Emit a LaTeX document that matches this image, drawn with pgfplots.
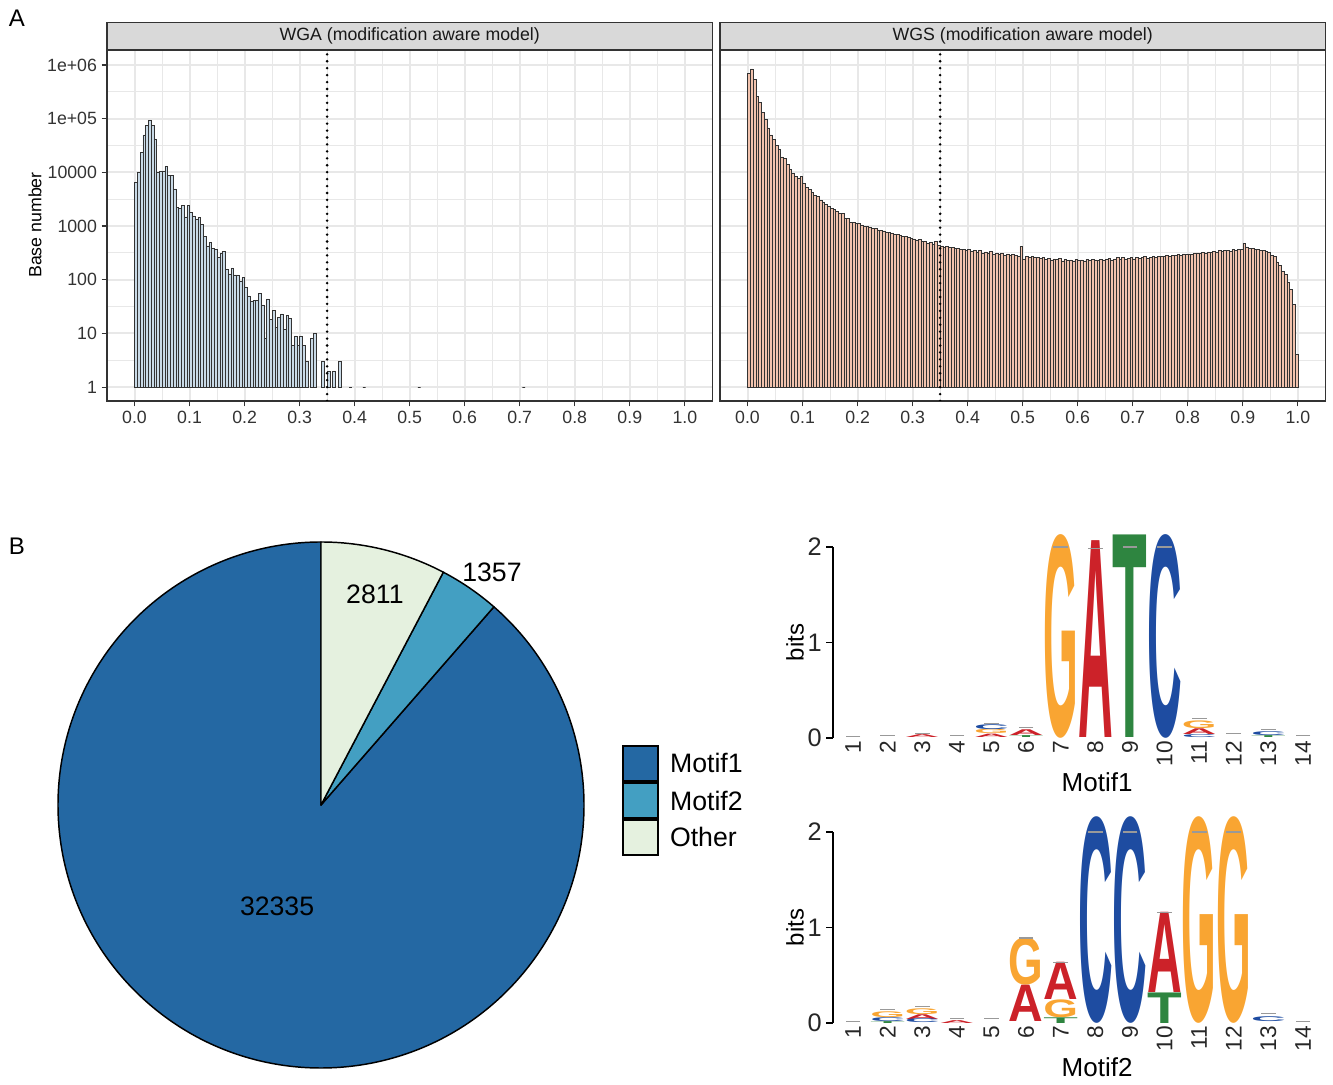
\documentclass[border=0pt]{standalone}
\usepackage{pgfplots}
\pgfplotsset{compat=1.18}
\usepackage{pgfplotstable}
\usepackage{graphicx}
\usepackage{xfp}
\usepackage{fontspec}
\setmainfont{Liberation Sans}
\setsansfont{Liberation Sans}

\definecolor{gridc}{HTML}{E8E8E8}
\definecolor{grey20}{HTML}{333333}
\definecolor{stripc}{HTML}{D9D9D9}
\definecolor{wgafill}{HTML}{C9DAE7}
\definecolor{wgsfill}{HTML}{F2C3AE}
\definecolor{barline}{HTML}{333333}
\definecolor{motifone}{HTML}{2468A3}
\definecolor{motiftwo}{HTML}{439FC2}
\definecolor{otherc}{HTML}{E5F1DF}
\definecolor{colG}{HTML}{F9A532}
\definecolor{colA}{HTML}{CC2229}
\definecolor{colT}{HTML}{2E8540}
\definecolor{colC}{HTML}{1E4CA1}

\newlength\bitlen
\setlength\bitlen{71.625pt}

% pie values
\def\vOther{2811}
\def\vMotifTwo{1357}
\def\vMotifOne{32335}
\edef\angA{\fpeval{90-360*\vOther/(\vOther+\vMotifTwo+\vMotifOne)}}
\edef\angB{\fpeval{\angA-360*\vMotifTwo/(\vOther+\vMotifTwo+\vMotifOne)}}

\pgfplotstableread{
x y
0.0025 6500
0.0075 10200
0.0125 23700
0.0175 50100
0.0225 75000
0.0275 94400
0.0325 75000
0.0375 42200
0.0425 10200
0.0475 10700
0.0525 10700
0.0575 12900
0.0625 8700
0.0675 8700
0.0725 4900
0.0775 2190
0.0825 2140
0.0875 2450
0.0925 1480
0.0975 2400
0.1025 1780
0.1075 1550
0.1125 1320
0.1175 1450
0.1225 1070
0.1275 646
0.1325 427
0.1375 490
0.1425 389
0.1475 363
0.1525 257
0.1575 316
0.1625 339
0.1675 158
0.1725 129
0.1775 166
0.1825 123
0.1875 123
0.1925 93
0.1975 110
0.2025 72
0.2075 50
0.2125 39
0.2175 41
0.2225 41
0.2275 56
0.2325 34
0.2375 8
0.2425 44
0.2475 18
0.2525 27
0.2575 13
0.2625 20
0.2675 23
0.2725 12
0.2775 22
0.2825 19
0.2875 6
0.2925 9
0.2975 6
0.3025 9
0.3075 6
0.3125 3
0.3225 8
0.3275 10
0.3425 3
0.3525 2
0.3625 2
0.3725 3
0.3925 1
0.4175 1
0.5175 1
0.7075 1
}\wgatab

\pgfplotstableread{
x y
0.0025 692000
0.0075 851000
0.0125 537000
0.0175 257000
0.0225 200000
0.0275 132000
0.0325 97700
0.0375 67600
0.0425 50100
0.0475 40700
0.0525 31600
0.0575 26900
0.0625 19500
0.0675 18200
0.0725 14100
0.0775 11500
0.0825 9550
0.0875 8510
0.0925 7760
0.0975 8320
0.1025 6310
0.1075 5250
0.1125 4790
0.1175 4170
0.1225 3720
0.1275 3550
0.1325 3020
0.1375 2820
0.1425 2510
0.1475 2340
0.1525 2140
0.1575 2040
0.1625 1860
0.1675 1740
0.1725 1700
0.1775 1410
0.1825 1380
0.1875 1170
0.1925 1170
0.1975 1120
0.2025 1120
0.2075 1050
0.2125 1000
0.2175 977
0.2225 955
0.2275 912
0.2325 891
0.2375 851
0.2425 832
0.2475 813
0.2525 776
0.2575 759
0.2625 741
0.2675 708
0.2725 692
0.2775 676
0.2825 646
0.2875 631
0.2925 617
0.2975 589
0.3025 575
0.3075 550
0.3125 562
0.3175 525
0.3225 513
0.3275 479
0.3325 501
0.3375 457
0.3425 525
0.3475 437
0.3525 427
0.3575 407
0.3625 417
0.3675 398
0.3725 398
0.3775 380
0.3825 389
0.3875 363
0.3925 372
0.3975 355
0.4025 363
0.4075 339
0.4125 347
0.4175 331
0.4225 347
0.4275 316
0.4325 331
0.4375 309
0.4425 339
0.4475 302
0.4525 309
0.4575 295
0.4625 316
0.4675 288
0.4725 302
0.4775 282
0.4825 295
0.4875 282
0.4925 275
0.4975 417
0.5025 245
0.5075 269
0.5125 263
0.5175 269
0.5225 257
0.5275 263
0.5325 251
0.5375 263
0.5425 240
0.5475 251
0.5525 234
0.5575 245
0.5625 240
0.5675 251
0.5725 224
0.5775 240
0.5825 229
0.5875 234
0.5925 224
0.5975 240
0.6025 229
0.6075 234
0.6125 224
0.6175 240
0.6225 229
0.6275 240
0.6325 234
0.6375 229
0.6425 240
0.6475 234
0.6525 240
0.6575 251
0.6625 234
0.6675 245
0.6725 257
0.6775 240
0.6825 263
0.6875 245
0.6925 251
0.6975 257
0.7025 245
0.7075 263
0.7125 251
0.7175 257
0.7225 269
0.7275 251
0.7325 263
0.7375 275
0.7425 257
0.7475 269
0.7525 275
0.7575 269
0.7625 282
0.7675 275
0.7725 288
0.7775 282
0.7825 295
0.7875 288
0.7925 302
0.7975 295
0.8025 302
0.8075 295
0.8125 309
0.8175 316
0.8225 309
0.8275 324
0.8325 316
0.8375 331
0.8425 324
0.8475 339
0.8525 331
0.8575 347
0.8625 339
0.8675 355
0.8725 347
0.8775 339
0.8825 363
0.8875 355
0.8925 372
0.8975 363
0.9025 479
0.9075 407
0.9125 380
0.9175 389
0.9225 372
0.9275 363
0.9325 355
0.9375 347
0.9425 339
0.9475 331
0.9525 288
0.9575 269
0.9625 214
0.9675 186
0.9725 145
0.9775 126
0.9825 91
0.9875 66
0.9925 35
0.9975 4
}\wgstab

% sequence logo letters per motif and base: position, stack base, height (bits)
\pgfplotstableread{
x y0 h
5 0.045 0.045
7 0 2.1
11 0.10 0.08
}\logoAG
\pgfplotstableread{
x y0 h
3 0.01 0.03
5 0.01 0.035
6 0.03 0.06
8 0 2.06
11 0.04 0.06
}\logoAA
\pgfplotstableread{
x y0 h
6 0.01 0.02
9 0 2.12
13 0.01 0.02
}\logoAT
\pgfplotstableread{
x y0 h
5 0.09 0.05
10 0 2.1
11 0.01 0.03
13 0.03 0.04
}\logoAC
\pgfplotstableread{
x y0 h
2 0.06 0.06
3 0.09 0.06
6 0.40 0.49
7 0.06 0.185
11 0 2.13
12 0 2.13
}\logoBG
\pgfplotstableread{
x y0 h
3 0.04 0.05
4 0 0.03
6 0.02 0.38
7 0.245 0.39
10 0.32 0.84
}\logoBA
\pgfplotstableread{
x y0 h
2 0 0.02
7 0 0.06
10 0 0.32
}\logoBT
\pgfplotstableread{
x y0 h
2 0.02 0.04
3 0 0.04
8 0 2.13
9 0 2.13
13 0.02 0.05
}\logoBC

\pgfplotsset{
  letter/.style={
    only marks, mark=none,
    visualization depends on={\thisrow{h}\as\hval},
    nodes near coords={\resizebox{26pt}{\hval\bitlen}{\textcolor{col#1}{\bfseries #1}}},
    every node near coord/.append style={anchor=south, inner sep=0pt, outer sep=0pt},
  },
  errline/.style={only marks, mark=-, mark size=5.5pt, color=black!40,
    mark options={line width=0.8pt}},
}

\begin{document}
\begin{tikzpicture}
\path[use as bounding box] (0pt,0pt) rectangle (999.75pt,813pt);

% ---------------- Panel A ----------------
\node[font=\fontsize{18}{21}\selectfont, anchor=center] at (12.75pt,799.5pt) {A};
\node[font=\fontsize{13.3}{16}\selectfont, rotate=90] at (26.25pt,644.25pt) {Base number};

\begin{axis}[at={(80.25pt,512.25pt)}, anchor=south west,
    scale only axis, width=454pt, height=263.25pt,
    ymode=log,
    xmin=-0.05, xmax=1.05, ymin=0.55, ymax=1.905e6,
    xtick={0,0.1,0.2,0.3,0.4,0.5,0.6,0.7,0.8,0.9,1.0},
    xticklabels={0.0,0.1,0.2,0.3,0.4,0.5,0.6,0.7,0.8,0.9,1.0},
    minor xtick={0.05,0.15,0.25,0.35,0.45,0.55,0.65,0.75,0.85,0.95},
    ytick={1,10,100,1000,10000,100000,1000000},
    yticklabels={1,10,100,1000,10000,1e+05,1e+06},
    minor ytick={3.1623,31.623,316.23,3162.3,31623,316230},
    grid=both,
    major grid style={color=gridc, line width=1.5pt},
    minor grid style={color=gridc, line width=0.75pt},
    axis line style={color=grey20, line width=0.8pt},
    tick align=outside, major tick length=4pt, minor tick length=0pt,
    tick style={color=grey20, line width=0.8pt},
    xtick pos=bottom, ytick pos=left,
    ticklabel style={font=\fontsize{13.3}{16}\selectfont, text=grey20},
    title={WGA (modification aware model)},
    title style={at={(0.5,1)}, anchor=south, yshift=-6pt, fill=stripc, draw=grey20,
      line width=0.8pt, minimum width=454pt, minimum height=20pt,
      inner sep=0pt, font=\fontsize{13.3}{16}\selectfont, text=black!90}]
\addplot[ybar, bar shift=0pt, bar width=0.005, fill=wgafill, draw=barline, line width=0.4pt]
  table[x=x, y=y] {\wgatab};
\addplot[black, line width=2.1pt, line cap=round, dash pattern=on 0pt off 5.2pt]
  coordinates {(0.35,0.55) (0.35,1.905e6)};
\end{axis}

\begin{axis}[at={(540pt,512.25pt)}, anchor=south west,
    scale only axis, width=454pt, height=263.25pt,
    ymode=log,
    xmin=-0.05, xmax=1.05, ymin=0.55, ymax=1.905e6,
    xtick={0,0.1,0.2,0.3,0.4,0.5,0.6,0.7,0.8,0.9,1.0},
    xticklabels={0.0,0.1,0.2,0.3,0.4,0.5,0.6,0.7,0.8,0.9,1.0},
    minor xtick={0.05,0.15,0.25,0.35,0.45,0.55,0.65,0.75,0.85,0.95},
    ytick={1,10,100,1000,10000,100000,1000000},
    yticklabels={},
    minor ytick={3.1623,31.623,316.23,3162.3,31623,316230},
    grid=both,
    major grid style={color=gridc, line width=1.5pt},
    minor grid style={color=gridc, line width=0.75pt},
    axis line style={color=grey20, line width=0.8pt},
    tick align=outside, major tick length=4pt, minor tick length=0pt,
    tick style={color=grey20, line width=0.8pt},
    ytick style={draw=none},
    xtick pos=bottom, ytick pos=left,
    ticklabel style={font=\fontsize{13.3}{16}\selectfont, text=grey20},
    title={WGS (modification aware model)},
    title style={at={(0.5,1)}, anchor=south, yshift=-6pt, fill=stripc, draw=grey20,
      line width=0.8pt, minimum width=454pt, minimum height=20pt,
      inner sep=0pt, font=\fontsize{13.3}{16}\selectfont, text=black!90}]
\addplot[ybar, bar shift=0pt, bar width=0.005, fill=wgsfill, draw=barline, line width=0.4pt]
  table[x=x, y=y] {\wgstab};
\addplot[black, line width=2.1pt, line cap=round, dash pattern=on 0pt off 5.2pt]
  coordinates {(0.35,0.55) (0.35,1.905e6)};
\end{axis}

% ---------------- Panel B: pie ----------------
\node[font=\fontsize{18}{21}\selectfont, anchor=center] at (12.75pt,403.5pt) {B};

\begin{axis}[at={(240.75pt,209.25pt)}, anchor=center, scale only axis,
  width=394.5pt, height=394.5pt, xmin=-1, xmax=1, ymin=-1, ymax=1,
  hide axis, clip=false]
\filldraw[fill=motifone, draw=black, line width=1.1pt, line join=round]
  (axis cs:0,0) -- ++(\angB:197.25pt) arc[start angle=\angB, end angle=-270, radius=197.25pt] -- cycle;
\filldraw[fill=motiftwo, draw=black, line width=1.1pt, line join=round]
  (axis cs:0,0) -- ++(\angA:197.25pt) arc[start angle=\angA, end angle=\angB, radius=197.25pt] -- cycle;
\filldraw[fill=otherc, draw=black, line width=1.1pt, line join=round]
  (axis cs:0,0) -- ++(90:197.25pt) arc[start angle=90, end angle=\angA, radius=197.25pt] -- cycle;
\node[font=\fontsize{20}{24}\selectfont] at (axis cs:0.205,0.802) {2811};
\node[font=\fontsize{20}{24}\selectfont] at (axis cs:0.650,0.886) {1357};
\node[font=\fontsize{20}{24}\selectfont] at (axis cs:-0.167,-0.384) {32335};
\end{axis}

% legend
\filldraw[fill=motifone, draw=black, line width=1.1pt] (467.25pt,227.25pt) rectangle (493.5pt,253.5pt);
\filldraw[fill=motiftwo, draw=black, line width=1.1pt] (467.25pt,199.5pt) rectangle (493.5pt,225.75pt);
\filldraw[fill=otherc, draw=black, line width=1.1pt] (467.25pt,171.75pt) rectangle (493.5pt,198pt);
\node[anchor=west, font=\fontsize{20}{24}\selectfont] at (499pt,240.4pt) {Motif1};
\node[anchor=west, font=\fontsize{20}{24}\selectfont] at (499pt,212.6pt) {Motif2};
\node[anchor=west, font=\fontsize{20}{24}\selectfont] at (499pt,184.9pt) {Other};

% ---------------- Panel B: logos ----------------
\begin{axis}[at={(624.75pt,259.5pt)}, anchor=south west,
    scale only axis, width=365.5pt, height=143.25pt,
    xmin=0.422, xmax=14.5, ymin=0, ymax=2, clip=false,
    axis lines=left, axis line style={-, line width=1.1pt, color=black},
    x axis line style={draw=none},
    xtick={1,2,3,4,5,6,7,8,9,10,11,12,13,14},
    xticklabels={1,2,3,4,5,6,7,8,9,10,11,12,13,14},
    xtick style={draw=none},
    ytick={0,1,2}, yticklabels={0,1,2},
    ytick style={line width=1.1pt, color=black},
    tick align=outside, major tick length=5pt,
    xticklabel shift=-6pt,
    xticklabel style={rotate=90, anchor=east, font=\fontsize{17}{20}\selectfont, text=black!85},
    yticklabel style={font=\fontsize{19}{22}\selectfont, text=black!85}]
\addplot[letter=G] table[x=x, y=y0] {\logoAG};
\addplot[letter=A] table[x=x, y=y0] {\logoAA};
\addplot[letter=T] table[x=x, y=y0] {\logoAT};
\addplot[letter=C] table[x=x, y=y0] {\logoAC};
\addplot[errline] coordinates {(1,0.02)(2,0.03)(3,0.05)(4,0.03)(5,0.15)(6,0.11)(7,2)(8,1.98)(9,2)(10,2)(11,0.2)(12,0.05)(13,0.09)(14,0.03)};
\node[rotate=90, font=\fontsize{18}{21}\selectfont] at ([xshift=-28.5pt]rel axis cs:0,0.5) {bits};
\node[font=\fontsize{19.5}{23}\selectfont] at ([yshift=-33pt]axis cs:8.05,0) {Motif1};
\end{axis}

\begin{axis}[at={(624.75pt,45.75pt)}, anchor=south west,
    scale only axis, width=365.5pt, height=143.25pt,
    xmin=0.422, xmax=14.5, ymin=0, ymax=2, clip=false,
    axis lines=left, axis line style={-, line width=1.1pt, color=black},
    x axis line style={draw=none},
    xtick={1,2,3,4,5,6,7,8,9,10,11,12,13,14},
    xticklabels={1,2,3,4,5,6,7,8,9,10,11,12,13,14},
    xtick style={draw=none},
    ytick={0,1,2}, yticklabels={0,1,2},
    ytick style={line width=1.1pt, color=black},
    tick align=outside, major tick length=5pt,
    xticklabel shift=-6pt,
    xticklabel style={rotate=90, anchor=east, font=\fontsize{17}{20}\selectfont, text=black!85},
    yticklabel style={font=\fontsize{19}{22}\selectfont, text=black!85}]
\addplot[letter=G] table[x=x, y=y0] {\logoBG};
\addplot[letter=A] table[x=x, y=y0] {\logoBA};
\addplot[letter=T] table[x=x, y=y0] {\logoBT};
\addplot[letter=C] table[x=x, y=y0] {\logoBC};
\addplot[errline] coordinates {(1,0.02)(2,0.14)(3,0.17)(4,0.05)(5,0.05)(6,0.89)(7,0.63)(8,2)(9,2)(10,1.16)(11,2)(12,2)(13,0.1)(14,0.02)};
\node[rotate=90, font=\fontsize{18}{21}\selectfont] at ([xshift=-28.5pt]rel axis cs:0,0.5) {bits};
\node[font=\fontsize{19.5}{23}\selectfont] at ([yshift=-33pt]axis cs:8.05,0) {Motif2};
\end{axis}
\end{tikzpicture}
\end{document}
